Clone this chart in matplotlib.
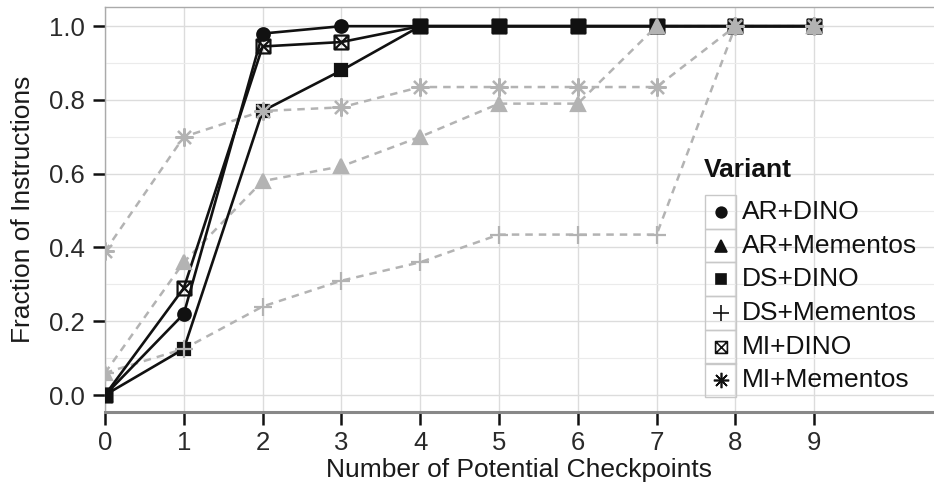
import numpy as np
import matplotlib
matplotlib.use("Agg")
import matplotlib.pyplot as plt
from matplotlib.path import Path
from matplotlib.patches import Rectangle

plt.rcParams["font.family"] = ["Liberation Sans", "DejaVu Sans"]

checkpoints = [0, 1, 2, 3, 4, 5, 6, 7, 8, 9]
variants = ["AR+DINO", "AR+Mementos", "DS+DINO", "DS+Mementos", "MI+DINO", "MI+Mementos"]
ar_dino = [0.0, 0.22, 0.98, 1.0, 1.0, 1.0, 1.0, 1.0, 1.0, 1.0]
ar_mementos = [0.06, 0.36, 0.58, 0.62, 0.70, 0.79, 0.79, 1.0, 1.0, 1.0]
ds_dino = [0.0, 0.125, 0.77, 0.88, 1.0, 1.0, 1.0, 1.0, 1.0, 1.0]
ds_mementos = [0.06, 0.125, 0.24, 0.31, 0.36, 0.435, 0.435, 0.435, 1.0, 1.0]
mi_dino = [0.0, 0.29, 0.945, 0.957, 1.0, 1.0, 1.0, 1.0, 1.0, 1.0]
mi_mementos = [0.39, 0.70, 0.77, 0.78, 0.835, 0.835, 0.835, 0.835, 1.0, 1.0]
values = [ar_dino, ar_mementos, ds_dino, ds_mementos, mi_dino, mi_mementos]

# square with an X inside (ggplot shape 7)
boxx = Path([(-1, -1), (1, -1), (1, 1), (-1, 1), (-1, -1), (-1, -1), (1, 1), (-1, 1), (1, -1)],
            [Path.MOVETO, Path.LINETO, Path.LINETO, Path.LINETO, Path.CLOSEPOLY,
             Path.MOVETO, Path.LINETO, Path.MOVETO, Path.LINETO])

black, gray = "#111111", "#b3b3b3"
styles = {
    "AR+DINO": dict(marker="o", ms=9, color=black, ls="-", mfc=black),
    "AR+Mementos": dict(marker="^", ms=10, color=gray, ls=(0, (3, 2.4)), mfc=gray),
    "DS+DINO": dict(marker="s", ms=8.5, color=black, ls="-", mfc=black),
    "DS+Mementos": dict(marker="+", ms=13, color=gray, ls=(0, (3, 2.4)), mfc=gray),
    "MI+DINO": dict(marker=boxx, ms=10, color=black, ls="-", mfc="none"),
    "MI+Mementos": dict(marker=(8, 2, 0), ms=13, color=gray, ls=(0, (3, 2.4)), mfc=gray),
}

fs = 19

fig = plt.figure(figsize=(9.34, 4.9), dpi=100)
ax = fig.add_axes([105 / 934, 1 - 412 / 490, 1 - 105 / 934, 405 / 490])

for name, ys in zip(variants, values):
    st = styles[name]
    lw = 1.9 if st["color"] == black else 1.8
    z = 3 if st["color"] == black else 2
    ax.plot(checkpoints, ys, color=st["color"], ls=st["ls"], lw=lw, zorder=z)
for name, ys in zip(variants, values):
    st = styles[name]
    z = 4 if st["color"] == black else 5
    ax.plot(checkpoints, ys, ls="none", marker=st["marker"], ms=st["ms"],
            mfc=st["mfc"], mec=st["color"], mew=1.6, zorder=z)

ax.set_xlim(0, 10.52)
ax.set_ylim(-0.046, 1.052)
ax.set_xticks(checkpoints)
ax.set_yticks([0.0, 0.2, 0.4, 0.6, 0.8, 1.0])
ax.set_yticks([0.1, 0.3, 0.5, 0.7, 0.9], minor=True)
ax.set_yticklabels(["0.0", "0.2", "0.4", "0.6", "0.8", "1.0"])
ax.grid(True, which="major", color="#dcdcdc", lw=1.0)
ax.grid(True, which="minor", axis="y", color="#ebebeb", lw=0.8)
ax.set_axisbelow(True)
ax.tick_params(axis="both", which="major", length=8.5, width=1.8, color="#111111",
               labelsize=18.5, labelcolor="#2a2a2a", pad=6)
ax.tick_params(axis="y", which="minor", length=0)
ax.tick_params(axis="x", length=9, pad=5)
for s in ["left", "top"]:
    ax.spines[s].set_color("#aaaaaa")
    ax.spines[s].set_linewidth(1.0)
ax.spines["bottom"].set_color("#888888")
ax.spines["bottom"].set_linewidth(2.2)
ax.spines["right"].set_visible(False)

ax.set_xlabel("Number of Potential Checkpoints", fontsize=fs, color="#1a1a1a", labelpad=2)
ax.set_ylabel("Fraction of Instructions", fontsize=fs, color="#1a1a1a", labelpad=10)

# legend drawn by hand in pixel coordinates (ggplot style keys)
H = 490
fig.text(704 / 934, 1 - 170 / H, "Variant", fontsize=fs, fontweight="bold",
         ha="left", va="center", color="#111111")
key_h = 33.7
for i, name in enumerate(variants):
    st = styles[name]
    top = 195 + i * key_h
    fig.add_artist(Rectangle((705 / 934, 1 - (top + key_h) / H), 31 / 934, key_h / H,
                             transform=fig.transFigure, fill=False, ec="#c8c8c8", lw=1.0))
    cy = 1 - (top + key_h / 2) / H
    fig.add_artist(plt.Line2D([720.5 / 934], [cy], transform=fig.transFigure, ls="none",
                              marker=st["marker"], ms=st["ms"] * 0.85,
                              mfc=("none" if st["mfc"] == "none" else black),
                              mec=black, mew=1.2))
    fig.text(742 / 934, cy, name, fontsize=fs, ha="left", va="center", color="#111111")

fig.savefig("out.png", dpi=100)
